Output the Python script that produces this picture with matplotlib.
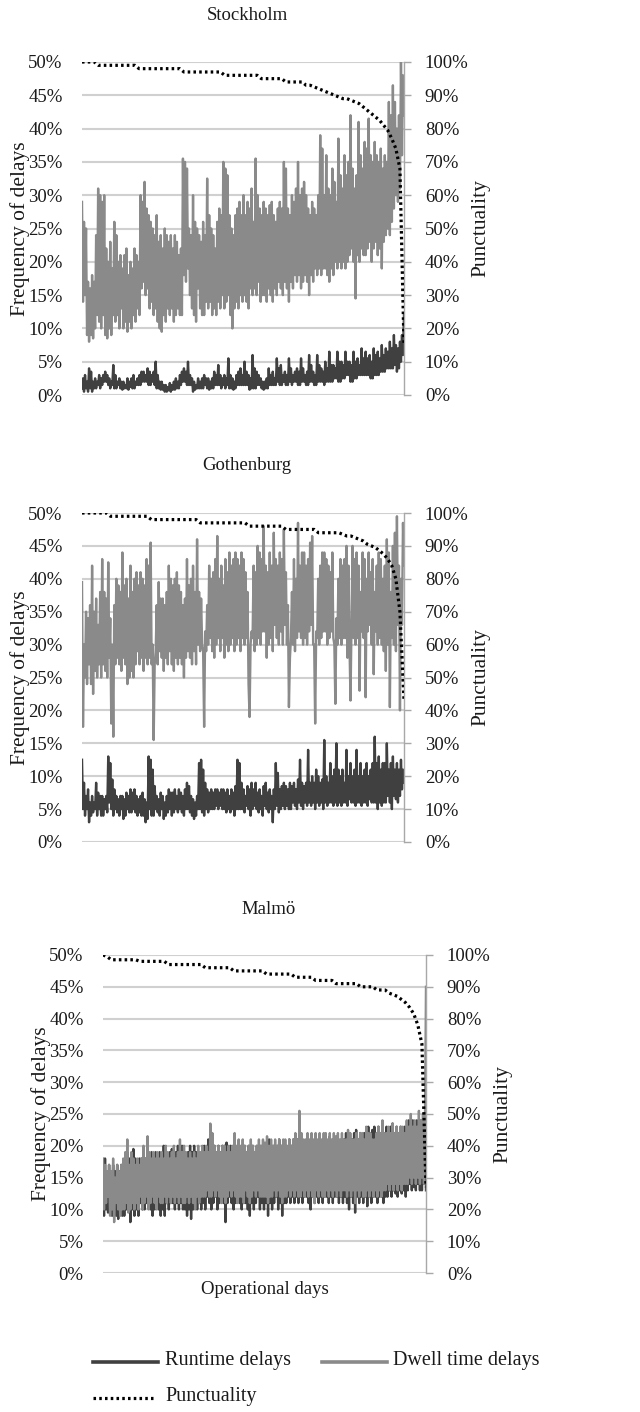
import numpy as np
import matplotlib
matplotlib.use("Agg")
import matplotlib.pyplot as plt
from matplotlib.ticker import PercentFormatter
from matplotlib.lines import Line2D

plt.rcParams['font.family'] = ['Liberation Serif', 'DejaVu Serif']

cities = ["Stockholm", "Gothenburg", "Malmö"]

# ---------------- Stockholm ----------------
sto_dwell = [
    29, 14, 26, 15, 25, 9, 17, 8, 16, 9, 18, 8.5, 17, 10, 24, 12, 31, 11, 30, 10,
    29, 12, 30, 9, 22, 8.5, 20, 10, 23, 9, 19, 12, 26, 11, 24, 12, 20, 10, 21, 13,
    19, 10, 21, 11, 22, 9.5, 18, 11, 20, 10, 19, 12, 22, 11, 21, 13, 20, 12, 30, 16,
    29, 17, 32, 15, 28, 16, 27, 13, 26, 14, 25, 12, 24, 13, 27, 11, 23, 10, 24, 9.5,
    22, 12, 25, 11, 24, 13, 23, 12, 24, 13, 22, 11, 24, 12, 23, 13, 21, 12, 22, 12,
    35.5, 18, 35, 17, 34, 19, 25, 15, 24, 13, 30, 12, 26, 11, 25, 16, 24, 13, 23, 12,
    26, 12, 24, 14, 32.5, 13, 27, 14, 25, 12, 24, 13, 22, 12, 26, 14, 28, 13, 27, 15,
    35, 13, 34, 14, 33, 15, 27, 12, 25, 10, 24, 13, 27, 14, 28, 13, 29, 15, 27, 14,
    30, 15, 27, 14, 29, 13, 28, 16, 31, 15, 26, 16, 35.5, 15, 30, 17, 28, 14, 27, 15,
    29, 15, 28, 14, 27, 16, 28.5, 15, 29, 14, 27, 16, 26, 15, 28, 17, 29, 16, 28, 15,
    35, 17, 34, 16, 28, 14, 27, 17, 30, 16, 29, 18, 31, 17, 35, 18, 30, 16, 31, 17,
    32, 18, 30, 17, 28, 15, 27, 18, 29, 17, 28, 19, 27, 18, 30, 19, 39, 18, 37, 19,
    30, 19, 36, 18, 31, 17, 30, 19, 34, 18, 32, 20, 29, 19, 38.5, 20, 33, 19, 31, 20,
    36, 19, 33, 20, 35, 21, 42, 22, 34, 20, 31, 14.5, 33, 21, 41, 20, 36, 22, 34, 21,
    38, 21, 37, 22, 41.5, 23, 36, 20, 35, 22, 38, 23, 36, 21, 35, 22, 37, 19, 34, 23,
    36, 24, 35, 25, 44, 24, 42, 26, 46.5, 28, 44, 30, 40, 29, 42, 31, 50, 36, 48, 42,
]
sto_runtime = [
    1, 2.5, 0.5, 3, 1, 2, 0.5, 4, 1, 3.5, 0.5, 2, 1, 2.5, 1, 2, 1.5, 3, 1, 2.5,
    1.5, 3, 2, 3.5, 2, 3, 1.5, 2.5, 1, 2, 1.5, 4.5, 1, 3, 1, 2, 1.5, 2.5, 1, 2,
    0.8, 2, 1, 1.5, 1, 2.5, 0.8, 2, 1.2, 2.5, 1, 3, 1, 2, 1.5, 2.5, 1.5, 3, 1.5, 3.5,
    2, 3.5, 2, 3, 2, 4, 1.5, 3.5, 1.5, 3, 2, 3.5, 1.5, 5, 1, 3, 1, 2, 0.8, 2,
    0.8, 1.5, 0.5, 1.5, 0.5, 1.2, 0.7, 1.8, 0.5, 1.5, 0.8, 2, 0.8, 2.5, 1, 2, 1, 3, 1.5, 3.5,
    2, 4, 2, 3.5, 1.5, 5, 1.5, 3, 1.5, 2.5, 0.5, 2, 0.8, 1.5, 1, 2.5, 1, 2, 1, 2.5,
    1, 3, 1.5, 2.5, 1, 2.5, 0.8, 2, 1, 2.5, 1, 3.5, 1.5, 3, 1.5, 4.5, 1.5, 3, 1, 2.5,
    1.5, 3, 1, 2.5, 1.5, 5.5, 1, 3, 1, 2.5, 0.8, 2, 1, 3, 1.5, 3.5, 1.5, 4, 1.5, 3,
    1.5, 5, 1.5, 3.5, 1.5, 3, 0.8, 2.5, 1, 6, 1, 4, 1, 3.5, 1.5, 3, 1.5, 2.5, 1, 2,
    0.8, 2, 1, 2.5, 1, 4, 1.5, 3, 1.5, 3.5, 1.5, 2.5, 1.5, 5.5, 2, 4, 1.5, 4.5, 1.5, 3,
    2, 3.5, 1.5, 3, 1.5, 5.5, 2, 4, 1.5, 3, 2, 3.5, 2, 4, 1.5, 3.5, 1.5, 5.5, 2, 4,
    2, 3, 1.5, 3.5, 1.5, 6, 2, 4.5, 2, 3.5, 1.5, 3, 1.5, 6, 2, 4.5, 2, 4, 2, 3.5,
    1.5, 5, 2, 4, 2, 6.5, 2, 4.5, 2, 4.5, 2.5, 4, 2.5, 6.5, 2, 5, 2, 5, 2.5, 4.5,
    2.5, 6.5, 3, 5, 3, 5, 2, 4.5, 2, 6.5, 2.5, 5, 2.5, 5.5, 3, 4.5, 3, 7, 3, 5.5,
    3, 6.5, 3, 5.5, 3, 6, 2.5, 5, 2.5, 7, 3, 6, 3, 6.5, 3, 5.5, 3.5, 7.5, 3.5, 6,
    3.5, 7, 4, 6.5, 4, 8, 4, 7, 4, 9, 4.5, 7.5, 3.5, 7, 4, 8, 5, 9, 6, 12,
]
sto_punct = [
    100, 100, 100, 100,
    99, 99, 99, 99, 99, 99, 99, 99, 99, 99,
    98, 98, 98, 98, 98, 98, 98, 98, 98, 98, 98,
    97, 97, 97, 97, 97, 97, 97, 97, 97, 97,
    96, 96, 96, 96, 96, 96, 96, 96, 96,
    95, 95, 95, 95, 95, 95,
    94, 94, 94, 94, 94,
    93, 93, 92.5, 92,
    91.5, 91, 90.5, 90,
    89.5, 89, 89, 88.5,
    88, 87.5, 86.5, 85.5,
    84.5, 83.5, 82.5, 81,
    79.5, 77, 74, 68, 15,
]

# ---------------- Gothenburg ----------------
got_dwell = [
    39.5, 17.5, 30, 25, 35, 24, 34, 27, 36, 24, 42, 22.5, 35, 26, 37, 25, 33, 27, 38, 25,
    43, 27, 38, 26, 37, 25, 42.5, 28, 34, 18, 30, 16, 36, 27, 40, 28, 39, 27, 38, 26,
    44, 28, 39, 27, 40, 24, 37, 25, 42, 26, 38, 25, 40, 27, 41, 29, 39, 27, 41, 28,
    40, 26, 39, 28, 43, 27, 42, 28, 45.5, 27, 30, 15.5, 27, 29, 36, 27, 39.5, 29, 37, 28,
    37, 26, 36, 28, 38, 27, 42, 29, 40, 27, 39, 26, 40, 28, 41, 27, 39, 28, 38, 27,
    36, 25, 37, 28, 43, 29, 39, 28, 40, 27, 42, 29, 38, 27, 46, 30, 38, 29, 37, 30,
    29, 17.5, 32, 29, 36, 30, 42, 31, 40, 29, 41, 28, 43, 30, 46.5, 31, 40, 29, 42, 31,
    39, 28, 43, 30, 41, 29, 44, 30, 42, 31, 43, 29, 44, 30, 43, 31, 42, 29, 44, 31,
    43, 30, 41, 31, 38, 24, 19, 30, 32, 31, 42, 29, 41, 30, 45, 31, 44, 30, 43, 32,
    48, 32, 42, 28, 41, 30, 44, 31, 42, 29, 47, 33, 43, 31, 42, 30, 44, 32, 43, 30,
    47.5, 33, 41, 30, 36, 20.5, 28, 31, 38, 30, 43, 29, 40, 31, 48.5, 32, 42, 31, 44, 30,
    44, 31, 42, 30, 43, 32, 45.5, 33, 46.5, 30, 30, 18, 32, 31, 40, 30, 42, 31, 44, 32,
    44, 32, 43, 30, 42, 31, 41, 32, 44, 31, 30, 21, 34, 30, 40, 31, 43, 30, 42, 31,
    43, 31, 45, 28, 42, 30, 21.5, 33, 45, 31, 43, 30, 44, 31, 42, 23, 38, 32, 44, 31,
    43, 22, 40, 32, 44, 33, 41, 30, 43, 25.5, 38, 32, 42, 30, 44, 31, 43, 30, 40, 29,
    42, 26, 46, 30, 44, 20.5, 38, 31, 45, 30, 47, 29, 49.5, 33, 42, 20, 40, 33, 48.5, 42,
]
got_runtime = [
    12.5, 5, 9, 4, 7, 5, 8, 3, 6, 4, 7, 4.5, 6, 5, 9, 4, 7.5, 5, 7, 4,
    7, 4, 6.5, 5, 7, 4.5, 13, 6, 12, 5, 9.5, 4, 8, 5, 7, 4.5, 6.5, 4, 7, 5,
    7, 3.5, 6.5, 4, 7.5, 5, 7, 4.5, 8, 4.5, 7.5, 5, 8, 4.5, 7, 4, 6.5, 4.5, 7, 4,
    7.5, 4, 6.5, 3, 6, 3.5, 13, 5, 12.5, 4, 11, 4, 8.5, 5, 7, 4.5, 6.5, 4, 7.5, 5,
    7, 3.5, 6, 4, 7, 4.5, 8, 5, 7.5, 4, 7.5, 4.5, 8, 5, 7, 4.5, 8, 5, 7.5, 4.5,
    7, 4, 8, 5, 9, 5, 8.5, 4.5, 7, 4, 6.5, 3.5, 6, 4, 7, 5, 12, 5, 12.5, 4.5,
    11, 4, 9, 5, 8, 4.5, 7.5, 5, 8, 5, 7.5, 5, 8, 5.5, 8, 5, 7.5, 5.5, 8, 5,
    8, 5, 7.5, 4.5, 8, 5, 7, 4.5, 8, 5, 7.5, 4, 8.5, 5, 12.5, 5, 12, 5, 9, 5,
    8, 4.5, 7, 5.5, 8.5, 5, 8, 4, 9, 5, 8, 5.5, 9, 5, 7.5, 4.5, 8, 5, 7, 4,
    8.5, 5.5, 9, 5, 7.5, 4.5, 8, 5, 7, 3, 8, 5, 12, 5.5, 10.5, 4.5, 8, 5, 8.5, 5.5,
    9, 5, 8.5, 5.5, 8, 5, 9, 5, 8.5, 6, 9, 5.5, 8, 5, 9.5, 6, 12.5, 5.5, 9, 5,
    8.5, 6, 9, 5.5, 14, 6, 9, 5.5, 10, 6, 9, 5, 11, 6, 10, 5.5, 9, 6, 9.5, 5,
    15.5, 6, 10, 5.5, 9, 6, 12, 6, 10, 5.5, 11, 6, 15, 5.5, 11, 6, 10, 5.5, 11, 6,
    9, 6, 14, 5.5, 10, 6.5, 12, 6, 10, 6, 11, 5.5, 14, 6, 10, 6, 12, 5.5, 10, 6,
    11, 6, 12, 5.5, 10, 6.5, 11, 6, 12, 6, 16, 6, 12, 5, 13, 6, 11, 5.5, 12, 6,
    12, 6, 15, 7, 11, 6, 12, 5, 13, 7, 11, 6.5, 12, 6, 11, 7, 12.5, 8, 11, 9,
]
got_punct = [
    100, 100, 100, 100, 100, 100, 100,
    99, 99, 99, 99, 99, 99, 99, 99, 99, 99,
    98, 98, 98, 98, 98, 98, 98, 98, 98, 98, 98, 98,
    97, 97, 97, 97, 97, 97, 97, 97, 97, 97, 97, 97,
    96, 96, 96, 96, 96, 96, 96, 96, 96,
    95, 95, 95, 95, 95, 95, 95, 95,
    94, 94, 94, 94, 94, 94,
    93.5, 93, 93,
    92.5, 92, 91.5,
    90.5, 90, 89.5,
    88.5, 87.5, 86,
    84, 80, 70, 43,
]

# ---------------- Malmö ----------------
mal_dwell = [
    18, 10, 17, 11, 16, 12, 17, 9, 16, 10, 18, 8, 15, 11, 17, 10, 16, 9, 17, 10,
    18, 10, 19, 11, 21, 9.5, 17, 10, 19, 11, 18, 10, 17, 11, 18, 10, 17, 12, 18, 10,
    20, 11, 18, 12, 21.5, 10, 19, 11, 18, 12, 19, 11, 18, 10, 19, 12, 18, 11, 19, 11,
    18, 12, 20, 11, 19, 12, 18, 11, 19, 12, 20, 11, 18, 12, 19, 11, 21, 12, 19, 11,
    20, 11, 19, 12, 18, 11, 19, 12, 18, 11, 19, 10, 18, 12, 20, 11, 19, 12, 20, 12,
    19, 12, 20, 13, 19, 12, 23.5, 12, 22, 13, 20, 12, 19, 13, 20, 12, 19, 11, 20, 12,
    20, 11, 19, 12, 20, 13, 19, 12, 20, 13, 22, 12, 20, 11, 21, 12, 20, 12, 21, 11,
    20, 13, 19, 12, 20, 11, 21, 12, 20, 13, 19, 12, 20, 13, 21, 12, 20, 12, 21, 12,
    20.5, 12, 21.5, 11, 20, 12, 21, 12, 20, 13, 21, 12, 20, 13, 21, 12, 20, 11, 21, 12,
    21, 12, 20, 13, 21, 12, 20, 13, 21, 12, 22, 13, 21, 12, 25.5, 12, 22, 13, 21, 12,
    21, 13, 22, 12, 21, 13, 22, 12, 21, 11, 22, 13, 21, 12, 22, 13, 21, 12, 22, 12,
    22, 13, 21, 12, 22, 13, 21, 12, 22, 13, 21.5, 12, 22, 13, 21, 12, 22, 13, 21, 13,
    21, 12, 22.5, 13, 22, 12, 21, 13, 21, 11, 22, 13, 21, 12, 22, 13, 22, 12, 21, 12,
    23, 13, 22, 12, 22, 13, 21, 12, 21, 13, 22, 12, 23, 13, 22, 12, 24, 13, 22, 13,
    22, 14, 23, 13, 22, 14, 23.5, 13, 22, 14, 23, 13, 22, 14, 23, 13, 23, 14, 22, 14,
    24, 14, 23, 15, 25, 14, 23, 15, 24, 14, 23, 15, 25.5, 14, 24, 15, 25, 14, 24, 45,
]
mal_runtime = [
    17, 9, 18, 10, 16, 9.5, 17, 11, 16, 9, 17, 10, 16, 9, 17, 8.5, 16, 10, 17, 9,
    17, 9, 18, 10, 19, 11, 18, 8, 17, 10, 19.5, 9, 18, 10, 17, 9, 18, 11, 18, 10,
    19, 10, 18, 11, 20, 11, 18, 10, 19, 9, 18, 10, 19, 11, 18, 10, 19, 9, 18, 10,
    20, 9, 19, 11, 18, 10, 19, 11, 19.5, 11, 18, 10, 19, 11, 20, 10, 19, 11, 20, 10,
    19, 10, 18, 9, 19, 10, 20, 8.5, 19, 10, 20, 11, 19, 10, 19, 11, 18, 10, 19, 11,
    20, 10, 19, 12, 21, 11, 20, 10, 19, 11, 20, 12, 19, 10, 20, 11, 19, 12, 20, 11,
    20, 8, 20.5, 11, 19, 12, 20, 11, 19, 10, 20, 11, 19, 12, 20, 11, 19, 10, 20, 11,
    20, 11, 19, 10, 20, 9, 19, 11, 20, 10, 19, 11, 20, 12, 19, 10, 20, 11, 19, 10,
    19, 11, 20, 9, 21, 11, 19.5, 10, 20, 11, 19, 12, 20, 10, 21, 11, 20, 9, 19, 11,
    20, 11, 19, 12, 21, 11, 20, 12, 21, 11, 20, 12, 21, 11, 20, 12, 21, 11, 20, 12,
    20, 12, 21, 11, 20.5, 10, 21, 12, 20, 11, 21, 12, 20, 11, 21, 12, 20, 11, 21, 12,
    21, 12, 20, 11, 21.5, 12, 20, 11, 21, 12, 20, 12, 21, 11, 20, 12, 21, 11, 21, 12,
    22, 11, 21, 10, 22, 12, 21, 11, 22, 9.5, 22.5, 12, 21, 11, 22, 12, 21, 11, 22, 12,
    22, 10.5, 23, 12, 22, 11, 22.5, 12, 23, 12, 22, 11, 23, 12, 22, 12, 23, 11, 22, 12,
    23, 12, 22, 13, 23, 12, 23.5, 13, 22, 12.5, 23, 12, 22, 13, 23, 12.5, 22, 13, 23, 12,
    23, 13, 24, 14, 23, 13, 24, 13.5, 23, 13, 24, 14, 23, 13, 24, 13, 23, 14, 24, 13,
]
mal_punct = [
    100, 99.5,
    98.5, 98.5, 98.5, 98.5, 98.5, 98.5, 98.5,
    98, 98, 98, 98, 98, 98, 98,
    97, 97, 97, 97, 97, 97, 97, 97, 97,
    96, 96, 96, 96, 96, 96, 96,
    95, 95, 95, 95, 95, 95, 95, 95,
    94, 94, 94, 94, 94, 94, 94,
    93, 93, 93, 93, 93,
    92, 92, 92, 92, 92,
    91, 91, 91, 91, 91, 91,
    90, 90, 90, 90,
    89, 89, 89,
    88, 87.5, 87, 86, 85, 83.5, 81.5, 78, 72, 27,
]

left_ticks = [0, 5, 10, 15, 20, 25, 30, 35, 40, 45, 50]
right_ticks = [0, 10, 20, 30, 40, 50, 60, 70, 80, 90, 100]

data = [
    (sto_runtime, sto_dwell, sto_punct),
    (got_runtime, got_dwell, got_punct),
    (mal_runtime, mal_dwell, mal_punct),
]

W, H = 640, 1412
fig = plt.figure(figsize=(W / 100, H / 100), dpi=100)

# axes rectangles in pixels: left, right, top(50%), bottom(0%)
rects = [(82, 404, 62, 395), (82, 404, 513, 842), (103, 426, 955, 1273)]
title_y = [15, 465, 910]
ylab_x = [(20, 481), (20, 481), (41, 503)]

RUN_C = '#404040'
DWELL_C = '#8a8a8a'
GRID_C = '#d0d0d0'
SPINE_C = '#a8a8a8'
TXT_C = '#1a1a1a'
DOTS = (0, (0.8, 1.0))

for k, (city, (rt, dw, pu)) in enumerate(zip(cities, data)):
    l, r, t, b = rects[k]
    ax = fig.add_axes([l / W, 1 - b / H, (r - l) / W, (b - t) / H])
    xr = np.linspace(0, 1, len(rt))
    xd = np.linspace(0, 1, len(dw))
    xp = np.linspace(0, 1, len(pu))
    ax.plot(xr, np.array(rt) / 100, color=RUN_C, lw=1.7, zorder=3)
    ax.plot(xd, np.array(dw) / 100, color=DWELL_C, lw=1.7, zorder=4)
    ax.set_xlim(0, 1)
    ax.set_ylim(0, 0.5)
    ax.set_yticks(np.array(left_ticks) / 100)
    ax.yaxis.set_major_formatter(PercentFormatter(1.0, decimals=0))
    ax.set_xticks([])
    ax.grid(axis='y', color=GRID_C, lw=1.5, zorder=0)
    ax.set_axisbelow(True)
    for s in ax.spines.values():
        s.set_visible(False)
    ax.tick_params(axis='y', length=0, pad=14, labelsize=13.5, labelcolor=TXT_C)

    ax2 = ax.twinx()
    ax2.plot(xp, np.array(pu) / 100, color='black', lw=2.3, linestyle=DOTS, zorder=5)
    ax2.set_ylim(0, 1.0)
    ax2.set_xlim(0, 1)
    ax2.set_yticks(np.array(right_ticks) / 100)
    ax2.yaxis.set_major_formatter(PercentFormatter(1.0, decimals=0))
    for name, s in ax2.spines.items():
        s.set_visible(name == 'right')
    ax2.spines['right'].set_color(SPINE_C)
    ax2.spines['right'].set_linewidth(1.0)
    ax2.tick_params(axis='y', length=5, width=1.0, color=SPINE_C, pad=10,
                    labelsize=13.5, labelcolor=TXT_C)

    cx = (l + r) / 2 + 4
    fig.text(cx / W, 1 - title_y[k] / H, city, ha='center', va='center',
             fontsize=13.5, color=TXT_C)
    cy = (t + b) / 2
    fig.text(ylab_x[k][0] / W, 1 - cy / H, "Frequency of delays", rotation=90,
             ha='center', va='center', fontsize=15.5, color=TXT_C)
    fig.text(ylab_x[k][1] / W, 1 - cy / H, "Punctuality", rotation=90,
             ha='center', va='center', fontsize=15.5, color=TXT_C)

fig.text(265 / W, 1 - 1290 / H, "Operational days", ha='center', va='center',
         fontsize=13.5, color=TXT_C)

def leg_line(x0, x1, y, **kw):
    fig.add_artist(Line2D([x0 / W, x1 / W], [1 - y / H, 1 - y / H], transform=fig.transFigure, **kw))

leg_line(93, 158, 1362, color=RUN_C, lw=2.6)
fig.text(165 / W, 1 - 1360 / H, "Runtime delays", ha='left', va='center', fontsize=14.5, color=TXT_C)
leg_line(322, 387, 1362, color=DWELL_C, lw=2.6)
fig.text(393 / W, 1 - 1360 / H, "Dwell time delays", ha='left', va='center', fontsize=14.5, color=TXT_C)
leg_line(93, 153, 1398, color='black', lw=2.3, linestyle=DOTS)
fig.text(165 / W, 1 - 1396 / H, "Punctuality", ha='left', va='center', fontsize=14.5, color=TXT_C)

fig.savefig("out.png", dpi=100, facecolor='white')
